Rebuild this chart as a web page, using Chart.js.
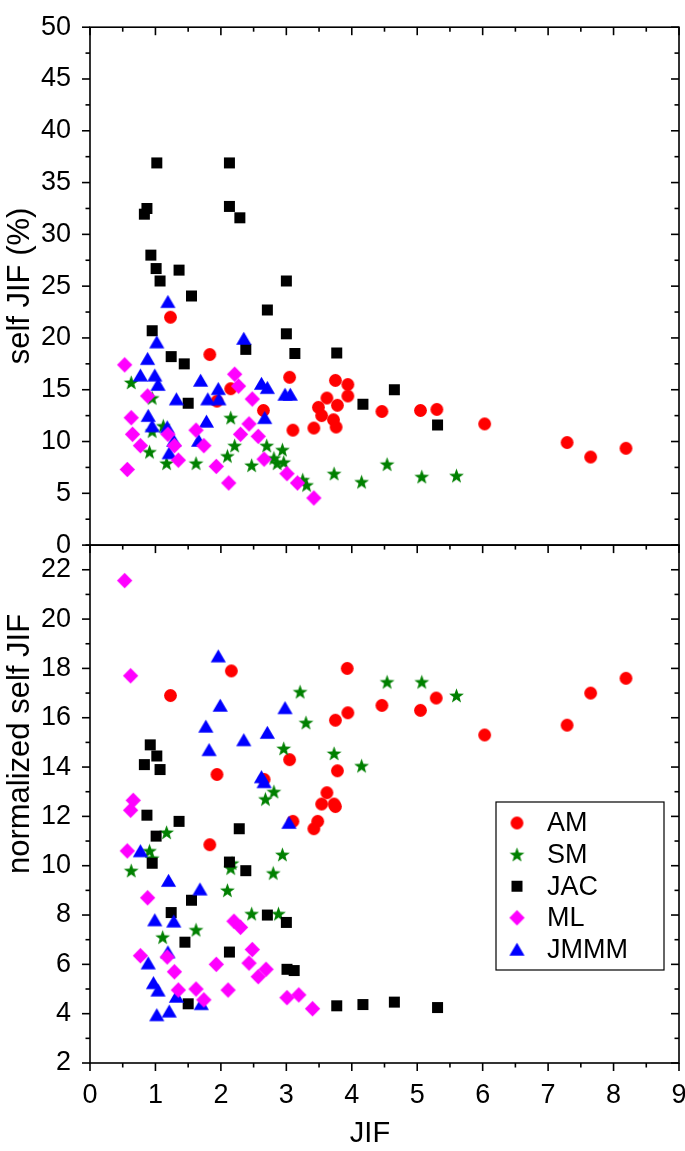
<!DOCTYPE html>
<html>
<head>
<meta charset="utf-8">
<script src="https://cdn.jsdelivr.net/npm/chart.js@4.4.1/dist/chart.umd.min.js"></script>
<style>
  html, body { margin: 0; padding: 0; background: #fff; }
</style>
</head>
<body>
<canvas id="chart" width="685" height="1151"></canvas>
<script>
// journals, in legend order
const journals = ['AM', 'SM', 'JAC', 'ML', 'JMMM'];
const colors = ['#ff0000', '#008000', '#000000', '#ff00ff', '#0000ff'];
const shapes = ['circle', 'star', 'square', 'diamond', 'triangle'];

// x ticks (JIF) and y ranges
const xTicks = [0, 1, 2, 3, 4, 5, 6, 7, 8, 9];
const topTicks = [0, 5, 10, 15, 20, 25, 30, 35, 40, 45, 50];
const botTicks = [2, 4, 6, 8, 10, 12, 14, 16, 18, 20, 22];
const axisTitles = { x: 'JIF', top: 'self JIF (%)', bottom: 'normalized self JIF' };

// top panel: [JIF, self JIF (%)]
const amTop = [[1.23, 22.0], [1.83, 18.4], [3.05, 16.2], [2.15, 15.1], [1.94, 13.9], [2.65, 13.0],
  [3.10, 11.1], [3.75, 15.9], [3.94, 15.5], [3.94, 14.4], [3.62, 14.2], [3.78, 13.5], [3.49, 13.3],
  [3.54, 12.5], [3.72, 12.1], [3.76, 11.4], [3.42, 11.3], [4.46, 12.9], [5.05, 13.0], [5.30, 13.1],
  [6.03, 11.7], [7.29, 9.9], [7.65, 8.5], [8.19, 9.35]];
const smTop = [[0.63, 15.7], [0.95, 14.2], [2.15, 12.3], [1.12, 11.5], [0.95, 11.0], [2.21, 9.6],
  [2.70, 9.6], [2.94, 9.2], [0.91, 9.0], [2.10, 8.6], [2.81, 8.4], [2.86, 7.9], [2.96, 8.0],
  [1.17, 7.9], [1.62, 7.9], [2.47, 7.7], [3.25, 6.3], [3.31, 5.8], [3.73, 6.9], [4.15, 6.1],
  [4.54, 7.8], [5.07, 6.6], [5.60, 6.7]];
const jacTop = [[1.02, 36.9], [2.13, 36.9], [0.87, 32.5], [0.83, 31.95], [2.13, 32.7], [2.29, 31.6],
  [0.93, 28.0], [1.01, 26.7], [1.36, 26.55], [1.07, 25.5], [3.00, 25.5], [1.55, 24.05], [2.71, 22.7],
  [0.95, 20.7], [3.00, 20.4], [2.38, 18.9], [3.13, 18.5], [1.24, 18.2], [1.44, 17.5], [1.50, 13.7],
  [3.77, 18.55], [4.65, 15.0], [4.17, 13.6], [5.31, 11.6]];
const mlTop = [[0.53, 17.4], [2.21, 16.5], [2.27, 15.35], [0.88, 14.4], [2.48, 14.1], [0.63, 12.3],
  [2.43, 11.7], [1.62, 11.1], [0.65, 10.7], [1.19, 10.7], [2.30, 10.7], [2.57, 10.5], [1.29, 9.6],
  [0.77, 9.6], [1.74, 9.6], [1.35, 8.2], [2.66, 8.3], [1.93, 7.6], [0.57, 7.3], [3.01, 6.9],
  [2.12, 6.0], [3.17, 6.0], [3.42, 4.55]];
const jmmmTop = [[1.19, 23.5], [1.02, 19.6], [2.35, 19.95], [0.88, 18.0], [0.77, 16.4], [0.99, 16.4],
  [1.04, 15.5], [1.69, 15.9], [1.96, 15.1], [2.62, 15.6], [2.71, 15.2], [2.98, 14.55], [3.06, 14.55],
  [1.32, 14.1], [1.80, 14.1], [1.97, 14.1], [2.67, 12.3], [0.89, 12.5], [1.78, 11.95], [0.95, 11.5],
  [1.18, 11.4], [1.28, 10.1], [1.66, 10.1], [1.21, 8.9]];

// bottom panel: [JIF, normalized self JIF]
const amBot = [[1.23, 16.9], [2.16, 17.9], [3.05, 14.3], [1.94, 13.7], [2.66, 13.5], [3.93, 18.0],
  [5.29, 16.8], [4.46, 16.5], [5.05, 16.3], [3.94, 16.2], [3.75, 15.9], [6.03, 15.3], [3.78, 13.85],
  [3.62, 12.96], [3.54, 12.5], [3.73, 12.5], [3.75, 12.4], [3.48, 11.8], [3.42, 11.5], [7.29, 15.7],
  [7.65, 17.0], [8.19, 17.6], [3.10, 11.8], [1.83, 10.85]];
const smBot = [[3.21, 17.05], [3.30, 15.8], [2.96, 14.75], [4.54, 17.45], [5.07, 17.45], [5.60, 16.9],
  [3.73, 14.55], [4.15, 14.05], [2.81, 13.0], [2.68, 12.7], [1.17, 11.35], [0.91, 10.6], [0.95, 10.3],
  [0.63, 9.8], [2.94, 10.45], [2.17, 10.1], [2.15, 9.9], [2.80, 9.7], [2.10, 9.0], [2.47, 8.05],
  [2.88, 8.05], [1.62, 7.4], [1.11, 7.1]];
const jacBot = [[0.92, 14.9], [1.02, 14.45], [0.83, 14.1], [1.07, 13.9], [0.87, 12.05], [1.36, 11.8],
  [2.28, 11.5], [1.01, 11.2], [0.95, 10.1], [2.13, 10.15], [2.38, 9.8], [1.55, 8.6], [1.24, 8.1],
  [2.71, 8.0], [3.00, 7.7], [1.45, 6.9], [2.13, 6.5], [3.01, 5.8], [3.12, 5.75], [1.50, 4.4],
  [3.77, 4.32], [4.17, 4.37], [4.65, 4.47], [5.31, 4.25]];
const mlBot = [[0.53, 21.56], [0.62, 17.7], [0.66, 12.65], [0.62, 12.25], [0.57, 10.6], [0.88, 8.7],
  [2.20, 7.75], [2.30, 7.5], [2.48, 6.6], [1.18, 6.3], [0.77, 6.35], [1.93, 6.0], [2.43, 6.05],
  [2.69, 5.8], [2.57, 5.5], [1.29, 5.7], [1.35, 4.96], [1.62, 5.0], [2.11, 4.96], [1.74, 4.56],
  [3.01, 4.65], [3.19, 4.76], [3.40, 4.2]];
const jmmmBot = [[1.96, 18.5], [1.99, 16.5], [2.98, 16.4], [1.77, 15.65], [2.71, 15.4], [2.35, 15.1],
  [1.82, 14.7], [2.62, 13.6], [2.66, 13.4], [3.04, 11.75], [0.77, 10.6], [1.20, 9.4], [1.68, 9.05],
  [0.99, 7.8], [1.28, 7.75], [1.19, 6.5], [0.89, 6.05], [0.97, 5.25], [1.04, 4.95], [1.32, 4.7],
  [1.70, 4.4], [1.02, 3.95], [1.21, 4.1]];

const topData = [amTop, smTop, jacTop, mlTop, jmmmTop];
const botData = [amBot, smBot, jacBot, mlBot, jmmmBot];
const drawOrder = [5, 4, 3, 1, 2];

const FONT = '"Liberation Sans", Arial, sans-serif';

// filled marker images (Chart.js' own star is only an outline)
function marker(shape, color) {
  const c = document.createElement('canvas');
  c.width = 17; c.height = 17;
  const g = c.getContext('2d');
  const m = 8.5;
  g.fillStyle = color;
  g.beginPath();
  if (shape === 'circle') {
    g.arc(m, m, 6.4, 0, Math.PI * 2);
  } else if (shape === 'square') {
    g.rect(m - 5.5, m - 5.5, 11, 11);
  } else if (shape === 'diamond') {
    g.moveTo(m, m - 7.7); g.lineTo(m + 7.7, m); g.lineTo(m, m + 7.7); g.lineTo(m - 7.7, m);
  } else if (shape === 'triangle') {
    g.moveTo(m, m - 6.8); g.lineTo(m + 7.6, m + 6.2); g.lineTo(m - 7.6, m + 6.2);
  } else if (shape === 'star') {
    for (let i = 0; i < 10; i++) {
      const r = i % 2 ? 3.2 : 7.8;
      const a = -Math.PI / 2 + i * Math.PI / 5;
      g.lineTo(m + r * Math.cos(a), m + 0.6 + r * Math.sin(a));
    }
  }
  g.closePath();
  g.fill();
  return c;
}
const markers = shapes.map((s, i) => marker(s, colors[i]));

const datasets = [];
journals.forEach((name, i) => {
  [['yTop', topData[i]], ['yBot', botData[i]]].forEach(([axis, pts]) => {
    datasets.push({
      label: name,
      yAxisID: axis,
      data: pts.map(p => ({ x: p[0], y: p[1] })),
      pointStyle: markers[i],
      backgroundColor: colors[i],
      borderColor: colors[i],
      order: drawOrder[i],
      showLine: false
    });
  });
});

// frame, tick marks, axis titles and legend box
const framePlugin = {
  id: 'frame',
  afterDraw(chart) {
    const { ctx, chartArea } = chart;
    const { x, yTop, yBot } = chart.scales;
    const L = chartArea.left, R = chartArea.right;
    ctx.save();
    ctx.strokeStyle = '#000';
    ctx.lineWidth = 1.6;

    [yTop, yBot].forEach(s => {
      ctx.strokeRect(L, s.top, R - L, s.bottom - s.top);
    });

    function hTick(xp, yp, len) {
      ctx.beginPath(); ctx.moveTo(xp, yp); ctx.lineTo(xp + len, yp); ctx.stroke();
    }
    function vTick(xp, yp, len) {
      ctx.beginPath(); ctx.moveTo(xp, yp); ctx.lineTo(xp, yp + len); ctx.stroke();
    }
    // y ticks: out on the left, in on the right
    for (let v = 0; v <= 50; v += 2.5) {
      const yp = yTop.getPixelForValue(v);
      const len = v % 5 === 0 ? 8 : 4.5;
      hTick(L, yp, -len);
      hTick(R, yp, -len);
    }
    for (let v = 2; v <= 23; v += 1) {
      const yp = yBot.getPixelForValue(v);
      const len = v % 2 === 0 ? 8 : 4.5;
      hTick(L, yp, -len);
      hTick(R, yp, -len);
    }
    // x ticks: out at the bottom, in at the top of each panel
    for (let v = 0; v <= 9; v += 0.5) {
      const xp = x.getPixelForValue(v);
      const len = v % 1 === 0 ? 8 : 4.5;
      vTick(xp, yBot.bottom, len);
      vTick(xp, yTop.top, len);
      vTick(xp, yBot.top, len);
    }

    // axis titles
    ctx.fillStyle = '#000';
    ctx.textAlign = 'center';
    ctx.textBaseline = 'middle';
    ctx.font = '29px ' + FONT;
    ctx.fillText(axisTitles.x, 370, 1134);
    [[axisTitles.top, 286], [axisTitles.bottom, 744]].forEach(([t, cy]) => {
      ctx.save();
      ctx.translate(20, cy);
      ctx.rotate(-Math.PI / 2);
      ctx.font = '31px ' + FONT;
      ctx.fillText(t, 0, 0);
      ctx.restore();
    });

    // legend
    const lx = 496, ly = 802, lw = 168, lh = 168;
    ctx.fillStyle = '#fff';
    ctx.fillRect(lx, ly, lw, lh);
    ctx.lineWidth = 1.2;
    ctx.strokeRect(lx, ly, lw, lh);
    ctx.fillStyle = '#000';
    ctx.font = '27px ' + FONT;
    ctx.textAlign = 'left';
    journals.forEach((name, i) => {
      const cy = ly + 21 + i * 31.6;
      const m = markers[i];
      ctx.drawImage(m, lx + 21 - m.width / 2, cy - m.height / 2);
      ctx.fillText(name, lx + 51, cy + 1);
    });
    ctx.restore();
  }
};

const tickFont = { family: FONT, size: 27 };

new Chart(document.getElementById('chart'), {
  type: 'scatter',
  data: { datasets },
  plugins: [framePlugin],
  options: {
    responsive: false,
    animation: false,
    devicePixelRatio: 1,
    layout: { padding: { top: 14, right: 6, bottom: 0, left: 0 } },
    plugins: {
      legend: { display: false },
      tooltip: { enabled: false }
    },
    scales: {
      x: {
        type: 'linear',
        position: 'bottom',
        min: xTicks[0],
        max: xTicks[xTicks.length - 1],
        grid: { display: false },
        border: { display: false },
        ticks: { stepSize: 1, font: tickFont, color: '#000', padding: 8, maxRotation: 0, autoSkip: false },
        afterFit: s => { s.height = 88; s.paddingLeft = 0; s.paddingRight = 0; }
      },
      yBot: {
        type: 'linear',
        position: 'left',
        stack: 'panels',
        stackWeight: 1,
        min: botTicks[0],
        max: 23,
        grid: { display: false },
        border: { display: false },
        ticks: { stepSize: 2, includeBounds: false, font: tickFont, color: '#000', padding: 11, autoSkip: false },
        afterFit: s => { s.width = 90; }
      },
      yTop: {
        type: 'linear',
        position: 'left',
        stack: 'panels',
        stackWeight: 1,
        min: topTicks[0],
        max: topTicks[topTicks.length - 1],
        grid: { display: false },
        border: { display: false },
        ticks: { stepSize: 5, font: tickFont, color: '#000', padding: 11, autoSkip: false },
        afterFit: s => { s.width = 90; }
      }
    }
  }
});
</script>
</body>
</html>
